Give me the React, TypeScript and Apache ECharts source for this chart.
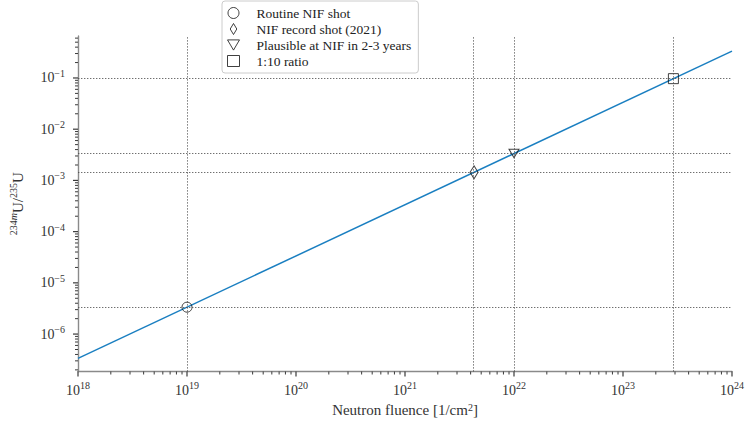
import React, { useEffect, useRef } from "react";
import * as echarts from "echarts";

// ---- data ----
const lineFluence = [1e18, 1e24];
const lineRatio = [3.35e-7, 0.335];

const shotNames = [
  "Routine NIF shot",
  "NIF record shot (2021)",
  "Plausible at NIF in 2-3 years",
  "1:10 ratio",
];
const shotFluence = [1e19, 4.3e21, 1e22, 2.9e23];
const shotRatio = [3.35e-6, 1.44e-3, 3.35e-3, 0.097];
const shotSymbols = [
  "circle",
  "path://M3,0L6,5L3,10L0,5Z",
  "path://M0,0L10,0L5,8.5Z",
  "rect",
];
const shotSizes: any[] = [10, [8, 13], [10, 8.5], 10];

const xRange = [1e18, 1e24];
const yRange = [1.85e-7, 0.66];

const xMajorExponents = [18, 19, 20, 21, 22, 23, 24];
const yMajorExponents = [-6, -5, -4, -3, -2, -1];
const xMinorExponents = [18, 19, 20, 21, 22, 23];
const yMinorExponents = [-7, -6, -5, -4, -3, -2, -1];
const minorMultipliers = [2, 3, 4, 5, 6, 7, 8, 9];

const FONT = "Liberation Serif";
const AXIS_COLOR = "#8a8a8a";
const TICK_COLOR = "#3a3a3a";
const TEXT_COLOR = "#333333";
const GUIDE = { color: "#4a4a4a", width: 0.8, type: [1.4, 1.6] as any };
const MAJOR_LEN = 5;
const MINOR_LEN = 3;

const lg = (v: number) => Math.log10(v);

function minorTicks(exps: number[], lo: number, hi: number) {
  const out: number[] = [];
  exps.forEach((e) =>
    minorMultipliers.forEach((k) => {
      const v = lg(k) + e;
      if (v >= lo - 1e-9 && v <= hi + 1e-9) out.push(v);
    })
  );
  return out;
}

const supFmt = (v: number) => {
  const e = Math.round(v);
  if (Math.abs(v - e) > 1e-6) return "";
  const s = e < 0 ? "\u2212" + Math.abs(e) : String(e);
  return "{b|10}{s|" + s + "}";
};

const tickRich = {
  b: { fontFamily: FONT, fontSize: 14, lineHeight: 19, color: TEXT_COLOR },
  s: {
    fontFamily: FONT,
    fontSize: 10,
    lineHeight: 10,
    verticalAlign: "top",
    color: TEXT_COLOR,
  },
};

function tickSeries(name: string, data: number[][], horizontal: boolean, len: number, w: number) {
  return {
    name,
    type: "line",
    silent: true,
    clip: false,
    z: 4,
    showSymbol: true,
    showAllSymbol: true,
    lineStyle: { width: 0, opacity: 0 },
    symbol: "rect",
    symbolSize: horizontal ? [len, w] : [w, len],
    symbolOffset: horizontal ? [-len / 2, 0] : [0, len / 2],
    itemStyle: { color: TICK_COLOR, borderWidth: 0, opacity: 1 },
    emphasis: { disabled: true },
    data,
  };
}

export default function App() {
  const ref = useRef<HTMLDivElement>(null);
  useEffect(() => {
    document.body.style.margin = "0";
    if (!ref.current) return;
    const chart = echarts.init(ref.current, undefined, { renderer: "svg" });

    const xLo = lg(xRange[0]);
    const xHi = lg(xRange[1]);
    const yLo = lg(yRange[0]);
    const yHi = lg(yRange[1]);

    const xMajorData = xMajorExponents.map((e) => [e, yLo]);
    const xMinorData = minorTicks(xMinorExponents, xLo, xHi).map((v) => [v, yLo]);
    const yMajorData = yMajorExponents.map((e) => [xLo, e]);
    const yMinorData = minorTicks(yMinorExponents, yLo, yHi).map((v) => [xLo, v]);

    const guideData: any[] = [];
    shotFluence.forEach((f) => guideData.push({ xAxis: lg(f) }));
    shotRatio.forEach((r) => guideData.push({ yAxis: lg(r) }));

    const option: any = {
      animation: false,
      backgroundColor: "#ffffff",
      grid: { left: 63, right: 13, top: 36, bottom: 48.5, containLabel: false },
      legend: {
        data: shotNames,
        orient: "vertical",
        left: 222,
        top: 1,
        itemWidth: 12,
        itemHeight: 11,
        itemGap: 2,
        padding: [5, 7, 5, 5],
        borderColor: "#cccccc",
        borderWidth: 1,
        borderRadius: 3,
        backgroundColor: "rgba(255,255,255,0.8)",
        itemStyle: { color: "rgba(0,0,0,0)", borderColor: "#111111", borderWidth: 1 },
        textStyle: {
          fontFamily: FONT,
          fontSize: 13.5,
          lineHeight: 14,
          color: "#222222",
          padding: [0, 0, 0, 12],
        },
      },
      xAxis: {
        type: "value",
        min: xLo,
        max: xHi,
        splitNumber: 6,
        splitLine: { show: false },
        name: "Neutron fluence [1/cm{sup|2}]",
        nameLocation: "middle",
        nameGap: 29,
        nameTextStyle: {
          fontFamily: FONT,
          fontSize: 15,
          color: TEXT_COLOR,
          rich: {
            sup: { fontFamily: FONT, fontSize: 10, lineHeight: 8, verticalAlign: "top", color: TEXT_COLOR },
          },
        },
        axisLine: { show: true, lineStyle: { color: AXIS_COLOR, width: 1.4 } },
        axisTick: { show: false },
        axisLabel: {
          show: true,
          margin: 9,
          showMinLabel: true,
          showMaxLabel: true,
          formatter: supFmt,
          rich: tickRich,
        },
      },
      yAxis: {
        type: "value",
        min: yLo,
        max: yHi,
        splitNumber: 7,
        splitLine: { show: false },
        name: "{s|234}{si|m}{b|U}{b|/}{s|235}{b|U}",
        nameLocation: "middle",
        nameGap: 51,
        nameRotate: 90,
        nameTextStyle: {
          color: TEXT_COLOR,
          rich: {
            b: { fontFamily: FONT, fontSize: 15, lineHeight: 19, color: TEXT_COLOR },
            s: { fontFamily: FONT, fontSize: 10, lineHeight: 10, verticalAlign: "top", color: TEXT_COLOR },
            si: { fontFamily: FONT, fontSize: 10, lineHeight: 10, fontStyle: "italic", verticalAlign: "top", color: TEXT_COLOR },
          },
        },
        axisLine: { show: true, lineStyle: { color: AXIS_COLOR, width: 1.4 } },
        axisTick: { show: false },
        axisLabel: {
          show: true,
          margin: 13,
          formatter: supFmt,
          rich: tickRich,
        },
      },
      series: [
        {
          name: "guides",
          type: "line",
          data: [],
          z: 1,
          silent: true,
          markLine: {
            silent: true,
            symbol: "none",
            label: { show: false },
            lineStyle: GUIDE,
            emphasis: { disabled: true },
            data: guideData,
          },
        },
        {
          name: "ratio",
          type: "line",
          z: 2,
          showSymbol: false,
          silent: true,
          lineStyle: { color: "#1a7fc1", width: 1.5 },
          data: lineFluence.map((f, i) => [lg(f), lg(lineRatio[i])]),
        },
        ...shotNames.map((n, i) => ({
          name: n,
          type: "scatter",
          z: 3,
          symbol: shotSymbols[i],
          symbolSize: shotSizes[i],
          itemStyle: { color: "rgba(0,0,0,0)", borderColor: "#111111", borderWidth: 1 },
          data: [[lg(shotFluence[i]), lg(shotRatio[i])]],
        })),
        tickSeries("xMajor", xMajorData, false, MAJOR_LEN, 1.2),
        tickSeries("xMinor", xMinorData, false, MINOR_LEN, 1),
        tickSeries("yMajor", yMajorData, true, MAJOR_LEN, 1.2),
        tickSeries("yMinor", yMinorData, true, MINOR_LEN, 1),
      ],
    };
    chart.setOption(option);
    return () => chart.dispose();
  }, []);
  return <div ref={ref} style={{ width: 747, height: 422 }} />;
}
